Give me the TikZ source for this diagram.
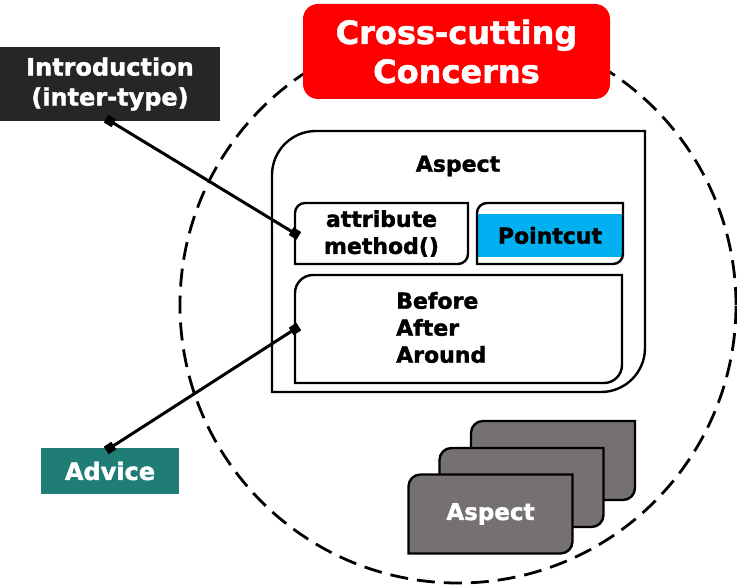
\documentclass[tikz,border=0pt]{standalone}
\usepackage{fontspec}
\setmainfont{DejaVu Sans}[BoldFeatures={FakeBold=1.6}]
\usetikzlibrary{arrows.meta}

\definecolor{ccred}{RGB}{255,0,0}
\definecolor{introgray}{RGB}{38,38,38}
\definecolor{adviceteal}{RGB}{31,125,118}
\definecolor{pcblue}{RGB}{0,176,240}
\definecolor{cardgray}{RGB}{118,113,113}

% box with round top-left and bottom-right corners
\newcommand{\diagshape}[3]{%
  \draw[#1] (#2.south west) -- ([yshift=-#3]#2.north west)
    arc[start angle=180,end angle=90,radius=#3] -- (#2.north east)
    -- ([yshift=#3]#2.south east)
    arc[start angle=0,end angle=-90,radius=#3] -- cycle;}

\tikzset{
  tag/.style={fill=#1, text=white, font=\fontsize{24}{30}\selectfont\bfseries,
    align=center, inner sep=0pt, outer sep=0pt},
  frame/.style={inner sep=0pt, outer sep=0pt},
  inner/.style={font=\fontsize{22}{27}\selectfont\bfseries, align=center, inner sep=0pt},
  box/.style={draw=black, line width=2.4pt},
  card/.style={draw=black, line width=2.4pt, fill=cardgray},
  conn/.style={line width=3pt, arrows={Square[length=9pt 0,width=9pt 0]-Square[length=9pt 0,width=9pt 0]},
    shorten <=-4.5pt, shorten >=-4.5pt}
}

\begin{document}
\begin{tikzpicture}[x=1pt,y=-1pt]
  \useasboundingbox (0,0) rectangle (737,586);

  % dashed ring
  \coordinate (ring) at (458,305);
  \draw[line width=2.8pt, dash pattern=on 18pt off 9pt] (ring) circle[radius=278pt];

  \node[tag=ccred, rounded corners=15pt, minimum width=307pt, minimum height=95pt,
    font=\fontsize{32}{39}\selectfont\bfseries] (title) at (456.5,51.5) {Cross-cutting\\Concerns};

  \node[tag=introgray, minimum width=220pt, minimum height=74pt] (intro) at (110,84) {Introduction\\(inter-type)};
  \node[tag=adviceteal, minimum width=138pt, minimum height=46pt] (advice) at (110,471) {Advice};

  % aspect
  \node[frame, minimum width=373pt, minimum height=261pt] (aspect) at (458.5,261.5) {};
  \diagshape{box}{aspect}{44pt}
  \node[inner] (aspecttitle) at (458,166) {Aspect};

  \node[frame, inner, minimum width=173pt, minimum height=61pt] (attr) at (381.5,233.5) {attribute\\method()};
  \diagshape{box}{attr}{10pt}

  \node[frame, minimum width=146pt, minimum height=61pt] (pcframe) at (550,233.5) {};
  \node[inner, fill=pcblue, minimum width=146pt, minimum height=43pt] (pointcut) at (550,235.5) {Pointcut};
  \diagshape{box}{pcframe}{10pt}

  \node[frame, minimum width=327pt, minimum height=108pt] (body) at (458.5,329) {};
  \diagshape{box}{body}{18pt}
  \node[inner, align=left, anchor=west] (timing) at (396,327.5) {Before\\After\\Around};

  % stack of aspects
  \foreach \n/\x/\y in {3/553/460.5, 2/521.5/487.5, 1/490.5/514}{
    \node[frame, minimum width=164pt, minimum height=79pt] (card\n) at (\x,\y) {};
    \diagshape{card}{card\n}{12pt}
  }
  \node[text=white, font=\fontsize{23}{27}\selectfont\bfseries] (cardtxt) at (card1) {Aspect};

  \draw[conn] (intro.south) -- (attr.west);
  \draw[conn] (advice.north) -- (body.west);
\end{tikzpicture}
\end{document}
